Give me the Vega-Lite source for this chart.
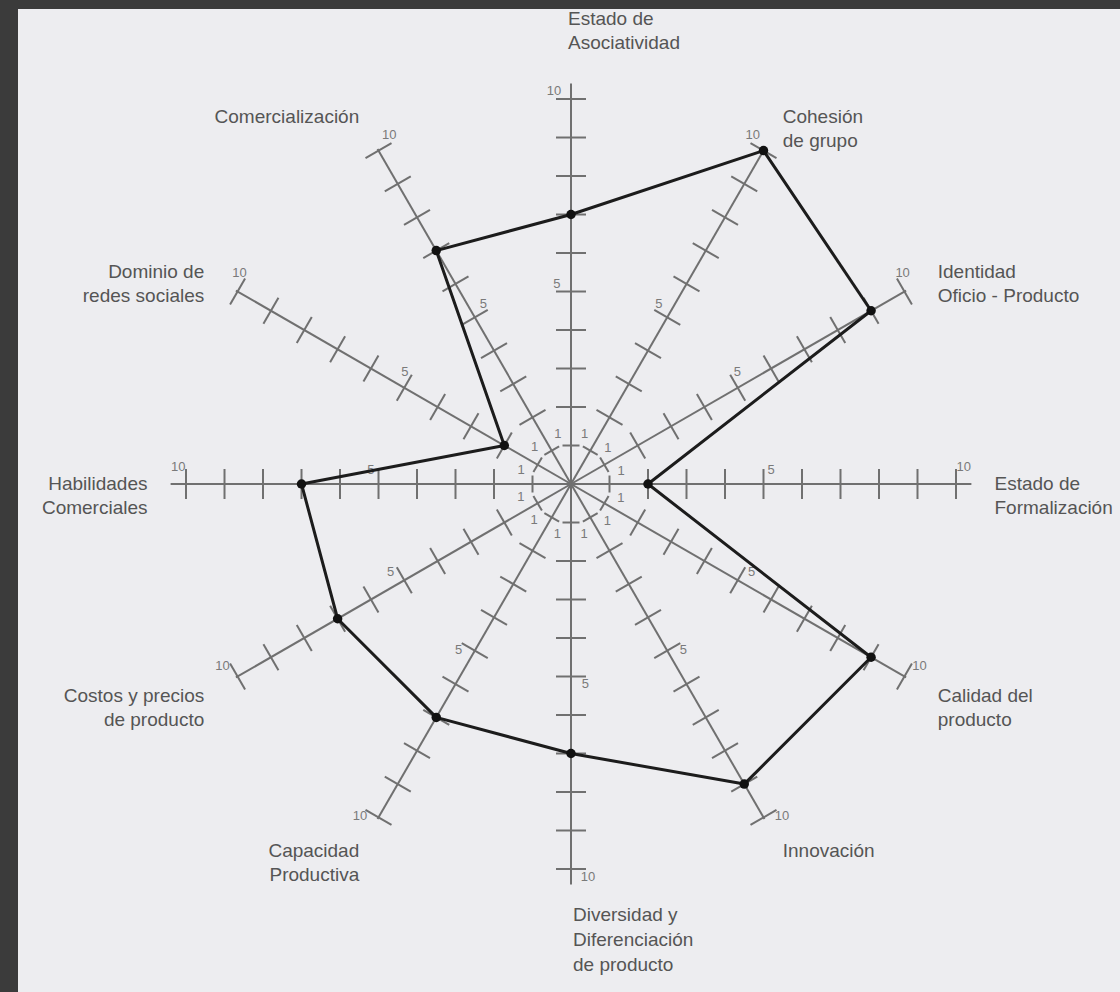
{
  "$schema": "https://vega.github.io/schema/vega-lite/v6.json",
  "width": 1102,
  "height": 983,
  "autosize": {"type": "none"},
  "padding": {"left": 18, "top": 9, "right": 0, "bottom": 0},
  "background": "#3b3b3b",
  "config": {"view": {"stroke": null, "fill": "#ededf0"}, "font": "Liberation Sans"},
  "datasets": {
    "axes": [
      {"idx": 0, "name": ["Estado de", "Asociatividad"], "value": 7, "ticks": [1,2,3,4,5,6,7,8,9,10]},
      {"idx": 1, "name": ["Cohesión", "de grupo"], "value": 10, "ticks": [1,2,3,4,5,6,7,8,9,10]},
      {"idx": 2, "name": ["Identidad", "Oficio - Producto"], "value": 9, "ticks": [1,2,3,4,5,6,7,8,9,10]},
      {"idx": 3, "name": ["Estado de", "Formalización"], "value": 2, "ticks": [1,2,3,4,5,6,7,8,9,10]},
      {"idx": 4, "name": ["Calidad del", "producto"], "value": 9, "ticks": [1,2,3,4,5,6,7,8,9,10]},
      {"idx": 5, "name": ["Innovación"], "value": 9, "ticks": [1,2,3,4,5,6,7,8,9,10]},
      {"idx": 6, "name": ["Diversidad y", "Diferenciación", "de producto"], "value": 7, "ticks": [1,2,3,4,5,6,7,8,9,10]},
      {"idx": 7, "name": ["Capacidad", "Productiva"], "value": 7, "ticks": [1,2,3,4,5,6,7,8,9,10]},
      {"idx": 8, "name": ["Costos y precios", "de producto"], "value": 7, "ticks": [1,2,3,4,5,6,7,8,9,10]},
      {"idx": 9, "name": ["Habilidades", "Comerciales"], "value": 7, "ticks": [1,2,3,4,5,6,7,8,9,10]},
      {"idx": 10, "name": ["Dominio de", "redes sociales"], "value": 2, "ticks": [1,2,3,4,5,6,7,8,9,10]},
      {"idx": 11, "name": ["Comercialización"], "value": 7, "ticks": [1,2,3,4,5,6,7,8,9,10]}
    ]
  },
  "data": {"name": "axes"},
  "transform": [
    {"calculate": "PI * (90 - datum.idx * 30) / 180", "as": "rad"},
    {"calculate": "cos(datum.rad)", "as": "c"},
    {"calculate": "sin(datum.rad)", "as": "s"},
    {"calculate": "0", "as": "z"}
  ],
  "layer": [
    {
      "transform": [
        {"calculate": "datum.idx % 3 == 0 ? 10.4 : 10.05", "as": "len"},
        {"calculate": "datum.len * datum.c", "as": "ex"},
        {"calculate": "datum.len * datum.s", "as": "ey"}
      ],
      "mark": {"type": "rule", "color": "#707070", "strokeWidth": 2},
      "encoding": {
        "x": {"field": "z", "type": "quantitative", "scale": {"domain": [-14.364, 14.26], "nice": false, "zero": false}, "axis": null},
        "y": {"field": "z", "type": "quantitative", "scale": {"domain": [-13.195, 12.338], "nice": false, "zero": false}, "axis": null},
        "x2": {"field": "ex"},
        "y2": {"field": "ey"}
      }
    },
    {
      "transform": [
        {"flatten": ["ticks"], "as": ["tick"]},
        {"calculate": "datum.tick * datum.c", "as": "tx"},
        {"calculate": "datum.tick * datum.s", "as": "ty"},
        {"calculate": "datum.idx * 30", "as": "rot"},
        {"calculate": "datum.tick == 1 ? 289 : 900", "as": "tsize"}
      ],
      "mark": {"type": "point", "shape": "stroke", "filled": false, "color": "#707070", "strokeWidth": 2, "opacity": 1},
      "encoding": {
        "x": {"field": "tx", "type": "quantitative", "scale": {"domain": [-14.364, 14.26], "nice": false, "zero": false}, "axis": null},
        "y": {"field": "ty", "type": "quantitative", "scale": {"domain": [-13.195, 12.338], "nice": false, "zero": false}, "axis": null},
        "angle": {"field": "rot", "type": "quantitative", "scale": null},
        "size": {"field": "tsize", "type": "quantitative", "scale": null, "legend": null}
      }
    },
    {
      "transform": [
        {"flatten": ["ticks"], "as": ["tick"]},
        {"filter": "datum.tick == 1 || datum.tick == 5 || datum.tick == 10"},
        {"calculate": "datum.tick == 1 ? 1.3 : (datum.tick == 5 ? 5.2 : 10.2)", "as": "along"},
        {"calculate": "datum.tick == 1 ? 0.34 : (datum.tick == 5 ? 0.37 : 0.44) * (datum.c > -0.01 ? 1 : -1)", "as": "perp"},
        {"calculate": "datum.along * datum.c - datum.perp * datum.s", "as": "lx"},
        {"calculate": "datum.along * datum.s + datum.perp * datum.c", "as": "ly"}
      ],
      "mark": {"type": "text", "fontSize": 13, "color": "#7a7a7a", "align": "center", "baseline": "middle"},
      "encoding": {
        "x": {"field": "lx", "type": "quantitative", "scale": {"domain": [-14.364, 14.26], "nice": false, "zero": false}, "axis": null},
        "y": {"field": "ly", "type": "quantitative", "scale": {"domain": [-13.195, 12.338], "nice": false, "zero": false}, "axis": null},
        "text": {"field": "tick", "type": "quantitative"}
      }
    },
    {
      "transform": [
        {"calculate": "(datum.idx + 1) % 12", "as": "nidx"},
        {"lookup": "nidx", "from": {"data": {"name": "axes"}, "key": "idx", "fields": ["value"]}, "as": ["nvalue"]},
        {"calculate": "PI * (90 - datum.nidx * 30) / 180", "as": "nrad"},
        {"calculate": "datum.value * datum.c", "as": "px"},
        {"calculate": "datum.value * datum.s", "as": "py"},
        {"calculate": "datum.nvalue * cos(datum.nrad)", "as": "qx"},
        {"calculate": "datum.nvalue * sin(datum.nrad)", "as": "qy"}
      ],
      "mark": {"type": "rule", "color": "#1c1c1c", "strokeWidth": 3, "strokeCap": "round"},
      "encoding": {
        "x": {"field": "px", "type": "quantitative", "scale": {"domain": [-14.364, 14.26], "nice": false, "zero": false}, "axis": null},
        "y": {"field": "py", "type": "quantitative", "scale": {"domain": [-13.195, 12.338], "nice": false, "zero": false}, "axis": null},
        "x2": {"field": "qx"},
        "y2": {"field": "qy"}
      }
    },
    {
      "transform": [
        {"calculate": "datum.value * datum.c", "as": "px"},
        {"calculate": "datum.value * datum.s", "as": "py"}
      ],
      "mark": {"type": "circle", "color": "#111111", "size": 90, "opacity": 1},
      "encoding": {
        "x": {"field": "px", "type": "quantitative", "scale": {"domain": [-14.364, 14.26], "nice": false, "zero": false}, "axis": null},
        "y": {"field": "py", "type": "quantitative", "scale": {"domain": [-13.195, 12.338], "nice": false, "zero": false}, "axis": null}
      }
    },
    {
      "transform": [
        {"filter": "datum.c > 0.1"},
        {"calculate": "11 * datum.c", "as": "nx"},
        {"calculate": "11 * datum.s", "as": "ny"}
      ],
      "mark": {"type": "text", "fontSize": 19, "lineHeight": 24, "color": "#555555", "align": "left", "baseline": "middle"},
      "encoding": {
        "x": {"field": "nx", "type": "quantitative", "scale": {"domain": [-14.364, 14.26], "nice": false, "zero": false}, "axis": null},
        "y": {"field": "ny", "type": "quantitative", "scale": {"domain": [-13.195, 12.338], "nice": false, "zero": false}, "axis": null},
        "text": {"field": "name", "type": "nominal"}
      }
    },
    {
      "transform": [
        {"filter": "datum.c < -0.1"},
        {"calculate": "11 * datum.c", "as": "nx"},
        {"calculate": "11 * datum.s", "as": "ny"}
      ],
      "mark": {"type": "text", "fontSize": 19, "lineHeight": 24, "color": "#555555", "align": "right", "baseline": "middle"},
      "encoding": {
        "x": {"field": "nx", "type": "quantitative", "scale": {"domain": [-14.364, 14.26], "nice": false, "zero": false}, "axis": null},
        "y": {"field": "ny", "type": "quantitative", "scale": {"domain": [-13.195, 12.338], "nice": false, "zero": false}, "axis": null},
        "text": {"field": "name", "type": "nominal"}
      }
    },
    {
      "transform": [
        {"filter": "datum.idx == 0"},
        {"calculate": "11.3 * datum.s", "as": "ny"}
      ],
      "mark": {"type": "text", "fontSize": 19, "lineHeight": 24, "color": "#555555", "align": "left", "baseline": "bottom", "dx": -3, "dy": -20},
      "encoding": {
        "x": {"field": "z", "type": "quantitative", "scale": {"domain": [-14.364, 14.26], "nice": false, "zero": false}, "axis": null},
        "y": {"field": "ny", "type": "quantitative", "scale": {"domain": [-13.195, 12.338], "nice": false, "zero": false}, "axis": null},
        "text": {"field": "name", "type": "nominal"}
      }
    },
    {
      "transform": [
        {"filter": "datum.idx == 6"},
        {"calculate": "10.9 * datum.s", "as": "ny"}
      ],
      "mark": {"type": "text", "fontSize": 19, "lineHeight": 25, "color": "#555555", "align": "left", "baseline": "top", "dx": 2, "dy": 2},
      "encoding": {
        "x": {"field": "z", "type": "quantitative", "scale": {"domain": [-14.364, 14.26], "nice": false, "zero": false}, "axis": null},
        "y": {"field": "ny", "type": "quantitative", "scale": {"domain": [-13.195, 12.338], "nice": false, "zero": false}, "axis": null},
        "text": {"field": "name", "type": "nominal"}
      }
    }
  ]
}
